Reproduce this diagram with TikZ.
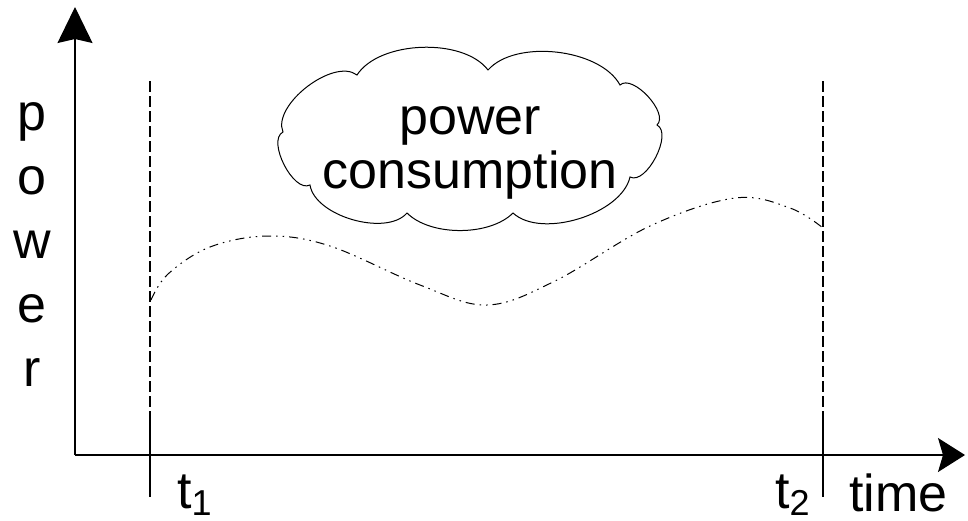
\documentclass[tikz,border=0pt]{standalone}
\usepackage{fontspec}
\setmainfont{Liberation Sans}
\usetikzlibrary{arrows.meta}

\newcommand{\lowidx}[1]{\raisebox{-7pt}{\fontsize{36}{36}\selectfont #1}}

\begin{document}
\begin{tikzpicture}[x=1pt,y=-1pt,
    big/.style={font=\fontsize{52}{54}\selectfont,inner sep=0pt},
    yaxis/.style={line width=1.2pt,-{Stealth[length=36pt,width=35pt,inset=4pt]}},
    xaxis/.style={line width=1.2pt,-{Stealth[length=27pt,width=34pt,inset=5pt]}},
    marker/.style={line width=1.1pt,dash pattern=on 11pt off 4pt},
    usage/.style={line width=1pt,dash pattern=on 9pt off 5pt on 1.5pt off 5pt on 1.5pt off 5pt},
    puff/.style={looseness=0.8}]
  \useasboundingbox (0,0) rectangle (968,520);

  % axes
  \coordinate (origin) at (75,455);
  \coordinate (ytop) at (75,7);
  \coordinate (xend) at (965,455);
  \draw[yaxis] (origin) -- (ytop);
  \draw[xaxis] (origin) -- (xend);

  % interval t1 .. t2
  \coordinate (t1top) at (150,81);
  \coordinate (t1mid) at (150,420);
  \coordinate (t1bot) at (150,497);
  \coordinate (t2top) at (823,81);
  \coordinate (t2mid) at (823,420);
  \coordinate (t2bot) at (823,497);
  \draw[marker] (t1top) -- (t1mid);
  \draw[line width=1.1pt] (t1mid) -- (t1bot);
  \draw[marker] (t2top) -- (t2mid);
  \draw[line width=1.1pt] (t2mid) -- (t2bot);

  % labels
  \foreach \ch [count=\i] in {p,o,w,e,r}
    \node[big,anchor=base] (ylabel\i) at (32,{66+64*\i}) {\ch};
  \node[big,anchor=base west] (t1) at (177,508) {t\lowidx{1}};
  \node[big,anchor=base west] (t2) at (775,508) {t\lowidx{2}};
  \node[big,anchor=base west] (time) at (849,511) {time};

  % power curve
  \draw[usage] plot[smooth,tension=0.6] coordinates {(151,300) (168,274) (210,247) (268,236) (330,246) (420,285) (487,305) (555,281) (650,226) (735,198) (790,208) (823,228)};

  % cloud, drawn puff by puff
  \draw[line width=1pt,fill=white] (283,132) to[puff,bend left=75] (357,75)
    to[puff,bend left=55] (488,70) to[puff,bend left=55] (620,85)
    to[puff,bend left=90] (657,125) to[puff,bend left=90] (630,177)
    to[puff,bend left=60] (513,213) to[puff,bend left=45] (407,213)
    to[puff,bend left=65] (310,185) to[puff,bend left=90] cycle;
  \node[big,align=center] (cloudtext) at (470,153) {power\\consumption};
\end{tikzpicture}
\end{document}
